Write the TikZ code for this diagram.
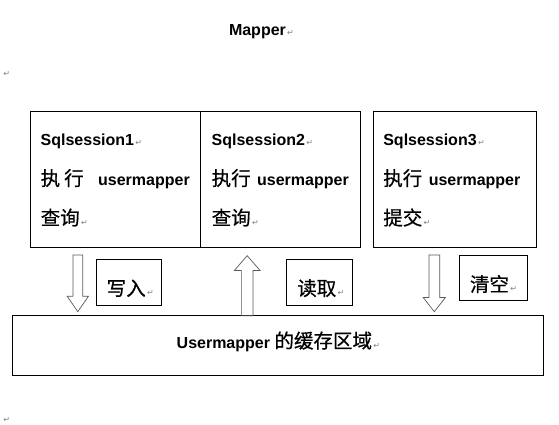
\documentclass[tikz,border=0pt]{standalone}
\usepackage{fontspec}
\setmainfont{Liberation Sans}
\newfontfamily\cjk{Noto Sans CJK SC}[FakeBold=0.6]
\newfontfamily\marksfont{DejaVu Sans}
\usetikzlibrary{shapes,shapes.arrows,positioning}
\newcommand{\pmark}{{\marksfont\mdseries\fontsize{8}{8}\selectfont\color{gray}\,↵}}
\tikzstyle{sbox}=[draw=black, line width=1pt, inner sep=0, outer sep=0,
                  anchor=north west]
\tikzstyle{txt}=[anchor=base west, inner sep=0, outer sep=0,
                 font=\bfseries\fontsize{16}{16}\selectfont]
\tikzstyle{cn}=[anchor=base west, inner sep=0, outer sep=0,
                font=\cjk\fontsize{19.5}{19.5}\selectfont]
\tikzstyle{hollow}=[single arrow, draw=black!65, line width=0.7pt, outer sep=0,
                    single arrow head indent=0pt, anchor=tip]

\begin{document}
\begin{tikzpicture}[x=1pt, y=-1pt]
  \path[use as bounding box] (0,0) rectangle (559,425);
  % title
  \node[txt] (title) at (229,36) {Mapper\pmark};
  \node[txt] (m1) at (2,77) {\pmark};
  \node[txt] (m2) at (2,422) {\pmark};
  % sessions
  \node[sbox, minimum width=170.3, minimum height=135.3] (s1) at (30,111.7) {};
  \node[sbox, minimum width=160.4, minimum height=135.3] (s2) at (200.3,111.7) {};
  \node[sbox, minimum width=163.4, minimum height=135.3] (s3) at (373.3,111.7) {};
  \node[txt] (s1a) at (40.7,145) {Sqlsession1\pmark};
  \node[txt] (s1b) at (40.7,185.5) {{\cjk\mdseries\fontsize{19.5}{19.5}\selectfont 执\hspace{4pt}行}\hspace{10pt} usermapper};
  \node[cn] (s1c) at (40.7,225) {查询\pmark};
  \node[txt] (s2a) at (211.7,145) {Sqlsession2\pmark};
  \node[txt] (s2b) at (211.7,185.5) {{\cjk\mdseries\fontsize{19.5}{19.5}\selectfont 执行}\hspace{2pt} usermapper};
  \node[cn] (s2c) at (211.7,225) {查询\pmark};
  \node[txt] (s3a) at (383.3,145) {Sqlsession3\pmark};
  \node[txt] (s3b) at (383.3,185.5) {{\cjk\mdseries\fontsize{19.5}{19.5}\selectfont 执行}\hspace{2pt} usermapper};
  \node[cn] (s3c) at (383.3,225) {提交\pmark};
  % cache
  \node[sbox, minimum width=531, minimum height=59.8] (cache) at (12.3,315.5) {};
  \node[txt] (cachet) at (176.7,348) {Usermapper {\cjk\mdseries\fontsize{19.5}{19.5}\selectfont 的缓存区域}\pmark};
  % arrows
  \node[hollow, shape border rotate=270, minimum height=56.7, inner sep=4.5pt,
        single arrow head extend=5.8pt, single arrow tip angle=69] (wr) at (77.8,311.7) {};
  \node[hollow, shape border rotate=90, minimum height=60, inner sep=5.5pt,
        single arrow head extend=7pt, single arrow tip angle=82] (rd) at (247.2,255.7) {};
  \node[hollow, shape border rotate=270, minimum height=56.7, inner sep=5pt,
        single arrow head extend=5.8pt, single arrow tip angle=76] (cl) at (434.3,311.7) {};
  % labels
  \node[sbox, minimum width=65.7, minimum height=45.7] (wrb) at (96,259.3) {};
  \node[sbox, minimum width=65.3, minimum height=45.7] (rdb) at (286.7,259.3) {};
  \node[sbox, minimum width=68.3, minimum height=45] (clb) at (459,255) {};
  \node[cn] (wrt) at (106.7,295.5) {写入\pmark};
  \node[cn] (rdt) at (297.3,295.5) {读取\pmark};
  \node[cn] (clt) at (470,291.5) {清空\pmark};
\end{tikzpicture}
\end{document}
